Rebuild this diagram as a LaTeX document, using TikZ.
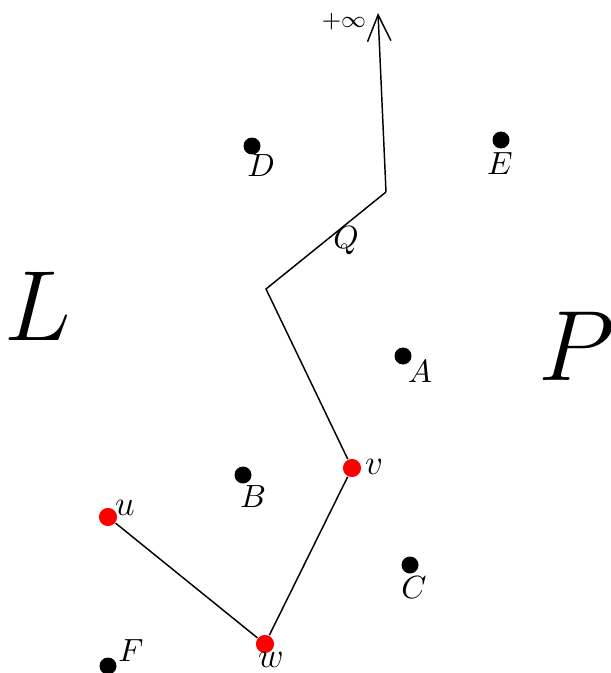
\documentclass[tikz,border=0pt]{standalone}
\usepackage{amsmath,amssymb}
\usetikzlibrary{arrows.meta}
\newcommand{\bigletter}[1]{\scalebox{1.37}{\Huge$#1$}}
\tikzset{
  dot/.style     = {fill=black, circle, inner sep=0pt, minimum size=5.8pt},
  reddot/.style  = {fill=red, circle, inner sep=0pt, minimum size=6.2pt},
  lbl/.style     = {inner sep=0pt, font=\fontsize{11.2}{13}\selectfont},
  vlbl/.style    = {inner sep=0pt, font=\large},
  region/.style  = {inner sep=0pt},
  ray/.style     = {-{Straight Barb[length=9pt,width=8pt]}},
}
\begin{document}
\begin{tikzpicture}[x=0.012cm, y=-0.012cm, line width=0.5pt]
\useasboundingbox (0,0) rectangle (611,673);
% ---------------- region labels ----------------
\node[region] (L) at (38,306) {\bigletter{L}};
\node[region] (P) at (577,346) {\bigletter{P}};
% ---------------- black points ----------------
\node[dot] (D) at (252,146) {};
\node[lbl] (Dl) at (261,166) {$D$};
\node[dot] (E) at (501,140) {};
\node[lbl] (El) at (500,164) {$E$};
\node[dot] (A) at (403,356) {};
\node[lbl] (Al) at (420,372) {$A$};
\node[dot] (B) at (243,475) {};
\node[lbl] (Bl) at (253,497) {$B$};
\node[dot] (C) at (410,565) {};
\node[lbl] (Cl) at (414,588) {$C$};
\node[dot] (F) at (108,666) {};
\node[lbl] (Fl) at (131,651) {$F$};
% ---------------- path u - w - v - Q ----------------
\node[reddot] (u) at (108,517) {};
\node[reddot] (w) at (265,644) {};
\node[reddot] (v) at (352,468) {};
\coordinate (q1) at (266,289);
\coordinate (q2) at (386,192);
\coordinate (top) at (378,13);
\draw (u) -- (w) -- (v) -- (q1) -- (q2);
\draw[ray] (q2) -- (top);
\node[vlbl] (ul) at (125,508) {$u$};
\node[vlbl] (vl) at (374,467) {$v$};
\node[vlbl] (wl) at (271,660) {$w$};
\node[lbl] (Ql) at (346,241) {$Q$};
\node[lbl, font=\footnotesize] (inf) at (344,22) {$+\infty$};
\end{tikzpicture}
\end{document}
